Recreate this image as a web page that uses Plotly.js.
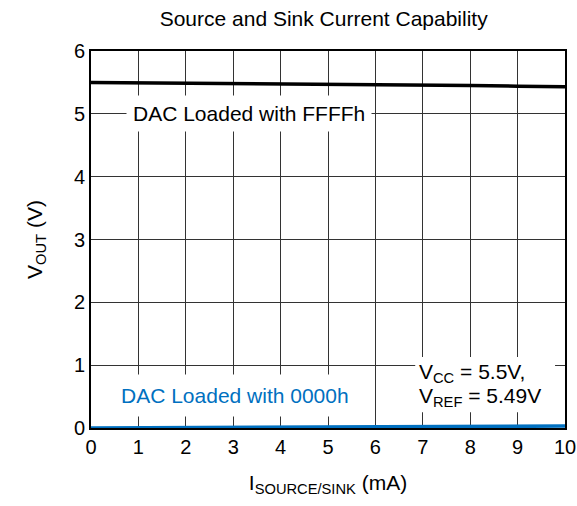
<!DOCTYPE html>
<html>
<head>
<meta charset="utf-8">
<script src="https://cdn.plot.ly/plotly-3.0.1.min.js"></script>
<style>html,body{margin:0;padding:0;background:#fff;}#chart{width:577px;height:506px;}</style>
</head>
<body>
<div id="chart"></div>
<script>
const currentMA = [0, 1, 2, 3, 4, 5, 6, 7, 8, 9, 10];
const voutFFFFh = [5.50, 5.495, 5.49, 5.485, 5.475, 5.47, 5.46, 5.455, 5.45, 5.44, 5.43];
const vout0000h = [0.0, 0.002, 0.005, 0.008, 0.011, 0.014, 0.017, 0.02, 0.023, 0.027, 0.03];
const xTicks = [0, 1, 2, 3, 4, 5, 6, 7, 8, 9, 10];
const yTicks = [0, 1, 2, 3, 4, 5, 6];

const font = 'Liberation Sans, Arial, sans-serif';
const traces = [
  {x: currentMA, y: voutFFFFh, mode: 'lines', line: {color: '#000000', width: 3.5}, showlegend: false, hoverinfo: 'skip', cliponaxis: false},
  {x: currentMA, y: vout0000h, mode: 'lines', line: {color: '#0070C0', width: 3.5}, showlegend: false, hoverinfo: 'skip', cliponaxis: false}
];
const layout = {
  width: 577, height: 506,
  margin: {l: 91, r: 12, t: 51, b: 78},
  paper_bgcolor: '#fff', plot_bgcolor: '#fff',
  font: {family: font, color: '#000', size: 20},
  title: {text: 'Source and Sink Current Capability', font: {size: 21, family: font, color: '#000'}, x: 0.561, xanchor: 'center', xref: 'container', yref: 'container', y: 0.964, yanchor: 'middle'},
  xaxis: {range: [0, 10], tickvals: xTicks, ticktext: xTicks.map(String), showgrid: true, gridcolor: '#333', gridwidth: 1,
    showline: true, linecolor: '#000', linewidth: 2, mirror: true, zeroline: false, ticks: '', ticklen: 0,
    tickfont: {size: 20, family: font}, fixedrange: true,
    title: {text: 'I<sub>SOURCE/SINK</sub> (mA)', font: {size: 21, family: font}, standoff: 18}},
  yaxis: {range: [0, 6], tickvals: yTicks, ticktext: yTicks.map(String), showgrid: true, gridcolor: '#333', gridwidth: 1,
    showline: true, linecolor: '#000', linewidth: 2, mirror: true, zeroline: false, ticks: '', ticklen: 0,
    tickfont: {size: 20, family: font}, fixedrange: true,
    title: {text: 'V<sub>OUT</sub> (V)', font: {size: 21, family: font}, standoff: 26}},
  shapes: [
    {type: 'rect', xref: 'x', yref: 'y', x0: 6.84, x1: 9.79, y0: 0.25, y1: 1.13, fillcolor: '#fff', line: {width: 0}, layer: 'above'}
  ],
  annotations: [
    {x: 0.73, y: 5, xref: 'x', yref: 'y', text: 'DAC Loaded with FFFFh', showarrow: false, xanchor: 'left', yanchor: 'middle',
      bgcolor: '#fff', borderpad: 6, font: {size: 21, family: font, color: '#000'}},
    {x: 0.42, y: 0.525, xref: 'x', yref: 'y', text: 'DAC Loaded with 0000h', showarrow: false, xanchor: 'left', yanchor: 'middle',
      bgcolor: '#fff', borderpad: 9, font: {size: 21, family: font, color: '#0070C0'}},
    {x: 6.9, y: 0.87, xref: 'x', yref: 'y', text: 'V<sub>CC</sub> = 5.5V,', showarrow: false, xanchor: 'left', yanchor: 'middle', align: 'left',
      borderpad: 0, font: {size: 21, family: font, color: '#000'}},
    {x: 6.9, y: 0.5, xref: 'x', yref: 'y', text: 'V<sub>REF</sub> = 5.49V', showarrow: false, xanchor: 'left', yanchor: 'middle', align: 'left',
      borderpad: 0, font: {size: 21, family: font, color: '#000'}}
  ]
};
Plotly.newPlot('chart', traces, layout, {displayModeBar: false, staticPlot: true});
</script>
</body>
</html>
